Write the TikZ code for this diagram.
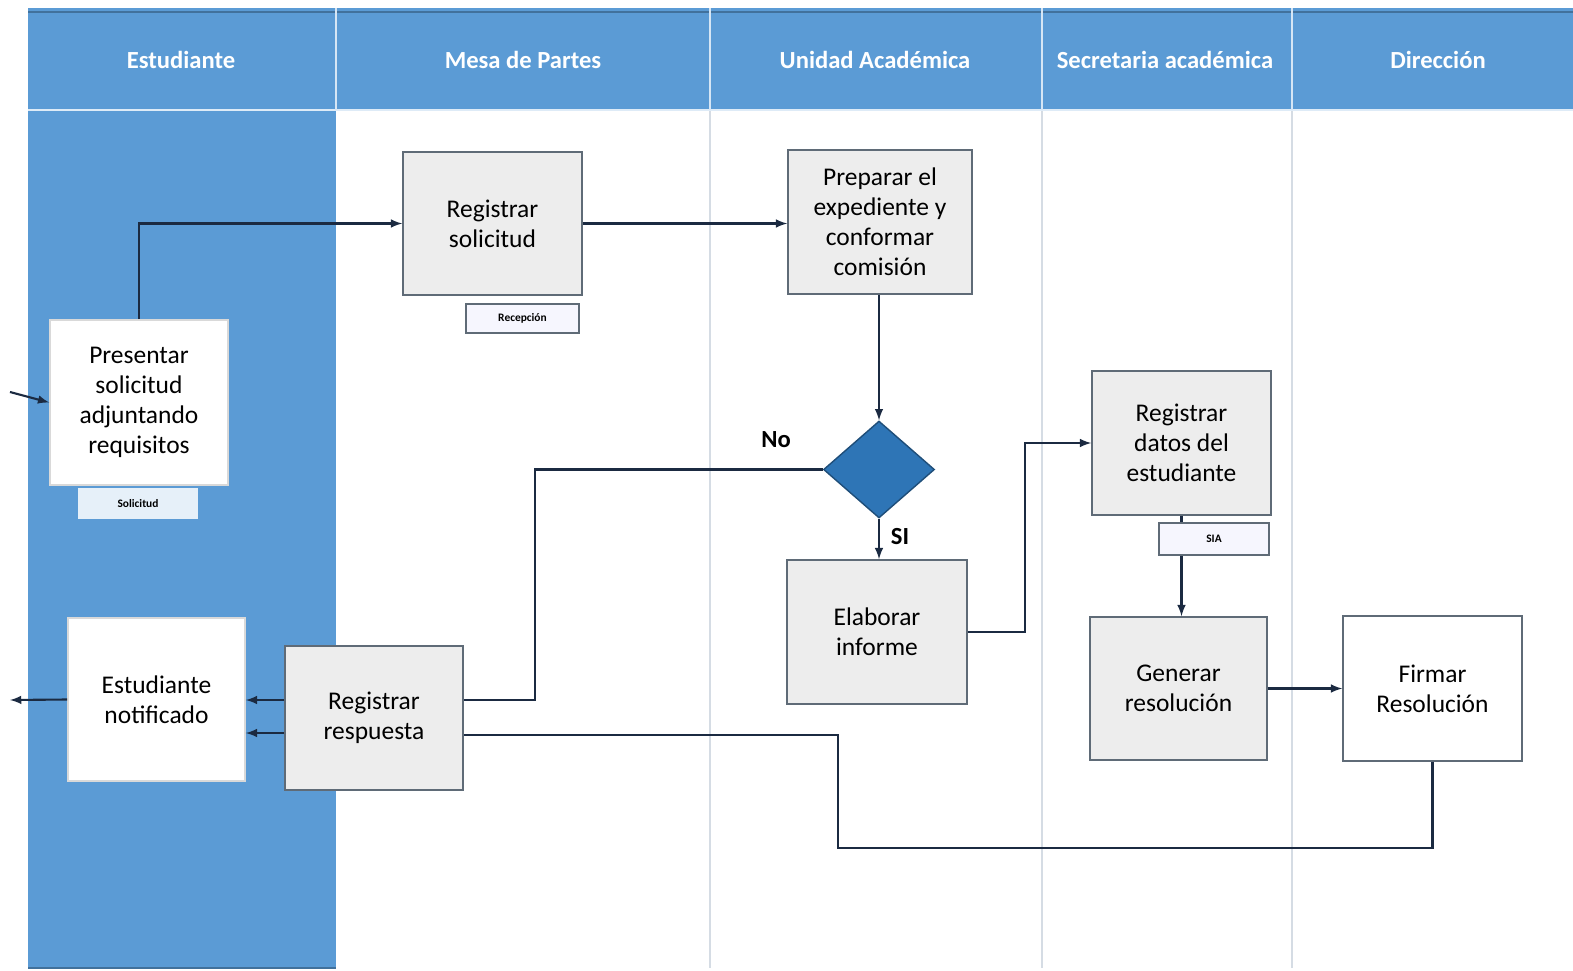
\documentclass[tikz,border=0pt]{standalone}
\usepackage{fontspec}
\setmainfont{Carlito}
\usetikzlibrary{shapes.geometric}

\definecolor{laneblue}{HTML}{5B9BD5}
\definecolor{lanedark}{HTML}{41719C}
\definecolor{boxgray}{HTML}{EDEDED}
\definecolor{boxline}{HTML}{5F6B77}
\definecolor{rhombfill}{HTML}{2E75B6}
\definecolor{rhombline}{HTML}{1F4E79}
\definecolor{linkcol}{HTML}{1B2A41}
\definecolor{sepgray}{HTML}{D5DCE4}

\tikzset{
  header/.style={text=white, font=\bfseries\fontsize{14}{16}\selectfont},
  task/.style={rectangle, draw=boxline, fill=boxgray, line width=0.9pt, inner sep=0pt,
    align=center, font=\fontsize{14.5}{17}\selectfont, minimum width=35.8mm, minimum height=28.8mm},
  wtask/.style={task, fill=white, draw=white!85!black},
  doc/.style={rectangle, draw=boxline, fill=boxgray!60!blue!8, line width=0.8pt, inner sep=0pt,
    font=\bfseries\fontsize{6.5}{8}\selectfont, minimum width=22.6mm, minimum height=5.8mm},
  flow/.style={draw=linkcol, line width=1.2pt},
  >=latex
}

\begin{document}
\begin{tikzpicture}[x=0.2mm, y=-0.2mm]
\useasboundingbox (0,0) rectangle (1573,971);

% lanes
\fill[laneblue] (28,8) rectangle (1573,110);
\fill[laneblue] (28,110) rectangle (336,968);
\draw[lanedark, line width=1pt] (28,968) -- (336,968);
\draw[lanedark, line width=0.8pt] (28,12) -- (1573,12);
\draw[sepgray, line width=1pt] (710,110) -- (710,968);
\draw[sepgray, line width=1pt] (1042,110) -- (1042,968);
\draw[sepgray, line width=1pt] (1292,110) -- (1292,968);
\draw[white!80!laneblue, line width=1.5pt] (28,110) -- (1573,110);
\foreach \xs in {336,710,1042,1292}
  \draw[white!75!laneblue, line width=1.5pt] (\xs,8) -- (\xs,110);

\node[header] (h1) at (181,60) {Estudiante};
\node[header] (h2) at (523,60) {Mesa de Partes};
\node[header] (h3) at (875,60) {Unidad Académica};
\node[header] (h4) at (1165,60) {Secretaria académica};
\node[header] (h5) at (1438,60) {Dirección};

% boxes
\node[wtask, minimum width=35.6mm, minimum height=33mm] (pres) at (139,402.5) {Presentar\\solicitud\\adjuntando\\requisitos};
\node[doc, minimum width=23.6mm, fill=white!85!laneblue, draw=white!85!laneblue] (soli) at (138,503.5) {Solicitud};
\node[task, minimum width=35.8mm, minimum height=28.6mm] (regs) at (492.5,223.5) {Registrar\\solicitud};
\node[doc] (recep) at (522.5,318.5) {Recepción};
\node[task, minimum width=36.8mm] (prep) at (880,222) {Preparar el\\expediente y\\conformar\\comisión};
\node[diamond, fill=rhombfill, draw=rhombline, line width=0.8pt, inner sep=0pt,
  minimum width=22.2mm, minimum height=19.4mm] (dec) at (879,469.5) {};
\node[task, minimum width=36mm] (elab) at (877,632) {Elaborar\\informe};
\node[task] (regd) at (1181.5,443) {Registrar\\datos del\\estudiante};
\node[task, minimum width=35.4mm, minimum height=28.6mm] (gen) at (1178.5,688.5) {Generar\\resolución};
\node[wtask, draw=boxline, minimum height=29mm] (firm) at (1432.5,688.5) {Firmar\\Resolución};
\node[wtask, minimum width=35.4mm, minimum height=32.6mm] (notif) at (156.5,699.5) {Estudiante\\notificado};
\node[task, minimum width=35.6mm] (resp) at (374,718) {Registrar\\respuesta};

\coordinate (inA) at (10,392);
\coordinate (outA) at (10,700);

% connectors
\draw[flow, ->] (inA) -- (pres.west);
\draw[flow, ->] (pres.north) |- (regs.west);
\draw[flow, ->] (regs.east) -- (regs.east -| prep.west);
\draw[flow, ->] (dec.north |- prep.south) -- (dec.north);
\draw[flow] (dec.west) -- (535,469.5) |- ([yshift=3.6mm]resp.east);
\node[font=\bfseries\fontsize{14}{16}\selectfont] (no) at (776,440) {No};
\draw[flow, ->] (dec.south) -- (dec.south |- elab.north);
\node[font=\bfseries\fontsize{14}{16}\selectfont] (si) at (900,537) {SI};
\draw[flow, ->] (elab.east) -- (1025,632) |- (regd.west);
\draw[flow, ->] (regd.south) -- (regd.south |- gen.north);
\node[doc, minimum width=22mm, minimum height=6.4mm] (sia) at (1214,539) {SIA};
\draw[flow, ->] (gen.east) -- (firm.west);
\draw[flow] (firm.south) |- (838,848) |- ([yshift=-3.4mm]resp.east);
\draw[flow, ->] ([yshift=3.6mm]resp.west) -- ([yshift=3.6mm]resp.west -| notif.east);
\draw[flow, ->] ([yshift=-3.0mm]resp.west) -- ([yshift=-3.0mm]resp.west -| notif.east);
\draw[flow, ->] (notif.west) -- (outA);

\end{tikzpicture}
\end{document}
